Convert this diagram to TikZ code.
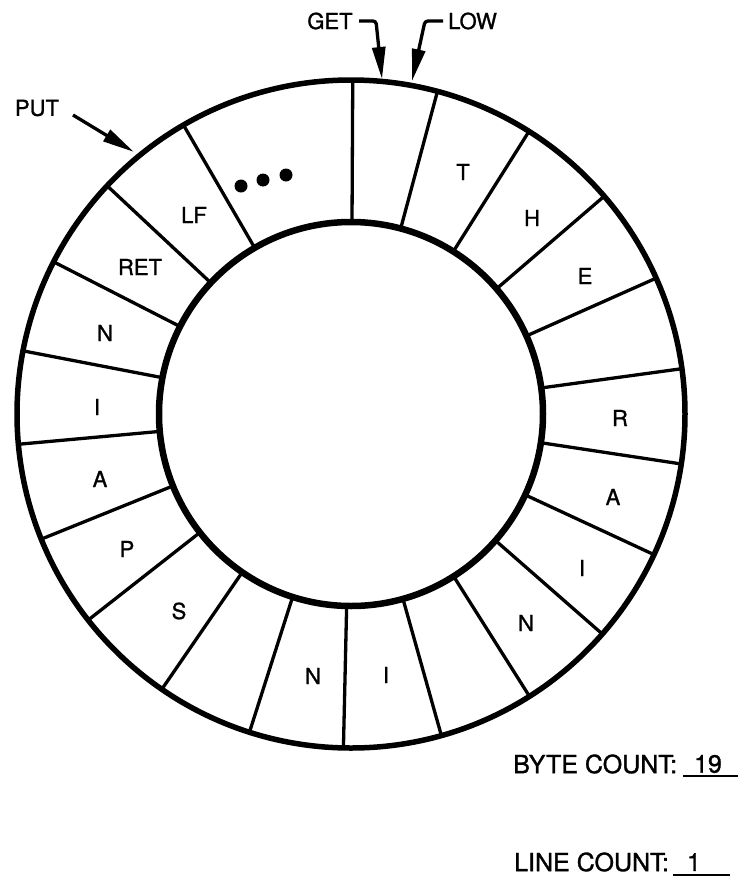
\documentclass[tikz,border=0pt]{standalone}
\usepackage{fontspec}
\setmainfont{TeX Gyre Heros}
\newfontfamily\medfont[FakeBold=1.2]{TeX Gyre Heros}
\usetikzlibrary{arrows.meta}
\tikzset{
  lbl/.style={font=\medfont\fontsize{22}{24}\selectfont, inner sep=0pt},
  cnt/.style={font=\medfont\fontsize{25}{27}\selectfont, inner sep=0pt},
  ringline/.style={line width=5.5pt},
  divider/.style={line width=3.3pt},
  pointer/.style={line width=3.3pt, -{Triangle[length=32pt,width=13pt]}, rounded corners=3pt},
  dotmark/.style={circle, fill=black, inner sep=0pt, minimum size=13pt}
}
\begin{document}
\begin{tikzpicture}[x=1pt,y=-1pt]
\useasboundingbox (0,0) rectangle (739,879);
% ring
\begin{scope}[shift={(351,414)}, y=1pt]
  \draw[ringline] (0,0) circle[radius=334];
  \draw[line width=6.5pt] (0,0) circle[radius=192];
  \foreach \a in {89.7,75,57.8,40.7,24,7.8,-8.6,-24.9,-41.2,-57.7,-74.3,-91.3,-107.7,-124.5,-141.9,-158,-174.8,169.1,152.9,136.9,120.1}
    \draw[divider] (\a:192) -- (\a:333);
\end{scope}
% letters in the ring
\node[lbl] (cT)  at (463,172) {T};
\node[lbl] (cH)  at (532,218) {H};
\node[lbl] (cE)  at (585,276) {E};
\node[lbl] (cR)  at (620,418) {R};
\node[lbl] (cA1) at (613,497) {A};
\node[lbl] (cI1) at (582,568) {I};
\node[lbl] (cN1) at (526,623) {N};
\node[lbl] (cI2) at (386,675) {I};
\node[lbl] (cN2) at (313,676) {N};
\node[lbl] (cS)  at (179,611) {S};
\node[lbl] (cP)  at (127,549) {P};
\node[lbl] (cA2) at (100,479) {A};
\node[lbl] (cI3) at (97,407) {I};
\node[lbl] (cN3) at (105,333) {N};
\node[lbl] (cRET) at (140,267) {RET};
\node[lbl] (cLF) at (194,215) {LF};
\node[dotmark] (d1) at (241,186) {};
\node[dotmark] (d2) at (263,180) {};
\node[dotmark] (d3) at (286,175) {};
% pointers
\node[lbl] (put) at (37,108) {PUT};
\coordinate (putS) at (73,115);
\coordinate (putT) at (134,152);
\draw[pointer] (putS) -- (putT);
\node[lbl] (get) at (330,21) {GET};
\coordinate (getS) at (359,21);
\coordinate (getC) at (376,21);
\coordinate (getT) at (382,79);
\draw[pointer] (getS) -- (getC) -- (getT);
\node[lbl, anchor=west] (low) at (448,21) {LOW};
\coordinate (lowS) at (443,21);
\coordinate (lowC) at (425,21);
\coordinate (lowT) at (412,81);
\draw[pointer] (lowS) -- (lowC) -- (lowT);
% counts
\node[cnt, anchor=west] (bc) at (513,764) {BYTE COUNT:};
\node[cnt] (bcv) at (708,764) {19};
\draw[line width=2.8pt] (683,776) -- (738,776);
\node[cnt, anchor=west] (lc) at (514,862) {LINE COUNT:};
\node[cnt] (lcv) at (694,862) {1};
\draw[line width=2.8pt] (673,875) -- (730,875);
\end{tikzpicture}
\end{document}
